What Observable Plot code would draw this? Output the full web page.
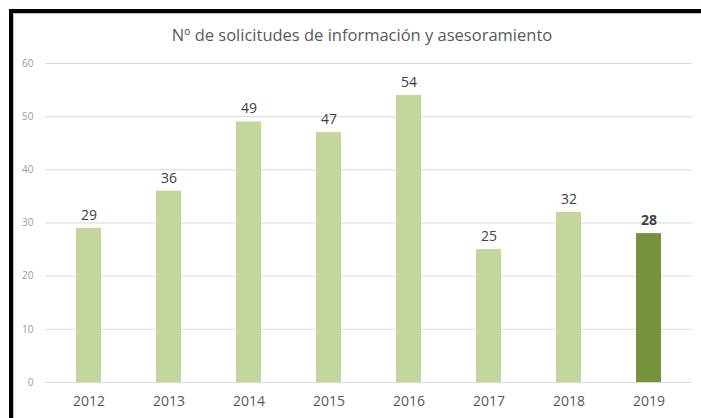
<!DOCTYPE html>
<html>
<head>
<meta charset="utf-8">
<script src="https://cdn.jsdelivr.net/npm/d3@7"></script>
<script src="https://cdn.jsdelivr.net/npm/@observablehq/plot@0.6"></script>
<style>
  html, body { margin: 0; padding: 0; background: #fff; overflow: hidden; }
  #wrap { position: relative; width: 701px; height: 418px; overflow: hidden; font-family: "Open Sans", sans-serif; }
  .bar { position: absolute; }
  #topbar { left: 9px; top: 9px; width: 692px; height: 4px; background: #000; }
  #leftbar { left: 9px; top: 9px; width: 4px; height: 409px; background: #000; }
  #topline { left: 13px; top: 13px; width: 688px; height: 1px; background: #9fd3c4; }
  #leftline { left: 13px; top: 13px; width: 1px; height: 405px; background: #9fd3c4; }
  #title { position: relative; height: 50px; }
  #title span { position: absolute; left: 362px; top: 23px; transform: translateX(-50%);
                white-space: nowrap; font-size: 16.5px; color: #595959; }
  #chart { position: relative; }
</style>
</head>
<body>
<div id="wrap">
  <div class="bar" id="topbar"></div>
  <div class="bar" id="leftbar"></div>
  <div class="bar" id="topline"></div>
  <div class="bar" id="leftline"></div>
  <div id="title"><span>Nº de solicitudes de información y asesoramiento</span></div>
  <div id="chart"></div>
</div>
<script>
const years = ["2012", "2013", "2014", "2015", "2016", "2017", "2018", "2019"];
const values = [29, 36, 49, 47, 54, 25, 32, 28];
const highlighted = [false, false, false, false, false, false, false, true];
const yTicks = [0, 10, 20, 30, 40, 50, 60];

const data = years.map((y, i) => ({year: y, value: values[i], hi: highlighted[i]}));

const chart = Plot.plot({
  width: 701,
  height: 368,
  marginTop: 13,
  marginBottom: 36,
  marginLeft: 45,
  marginRight: 9,
  style: {fontFamily: "'Open Sans', sans-serif", background: "transparent"},
  x: {domain: years, paddingInner: 0.684, paddingOuter: 0.342, label: null},
  y: {domain: [0, 60], ticks: yTicks, label: null},
  marks: [
    Plot.gridY(yTicks, {stroke: "#d9d9d9", strokeOpacity: 1, strokeWidth: 1}),
    Plot.barY(data, {x: "year", y: "value", fill: d => d.hi ? "#76923c" : "#c3d69b"}),
    Plot.text(data.filter(d => !d.hi), {x: "year", y: "value", text: d => String(d.value), dy: -13, fontSize: 14, fill: "#404040"}),
    Plot.text(data.filter(d => d.hi), {x: "year", y: "value", text: d => String(d.value), dy: -13, fontSize: 14, fill: "#404040", fontWeight: "bold"}),
    Plot.axisX({tickSize: 0, tickPadding: 14, fontSize: 14, color: "#595959"}),
    Plot.axisY(yTicks, {tickSize: 0, tickPadding: 12, fontSize: 10, color: "#999999"})
  ]
});
document.getElementById("chart").appendChild(chart);
</script>
</body>
</html>
